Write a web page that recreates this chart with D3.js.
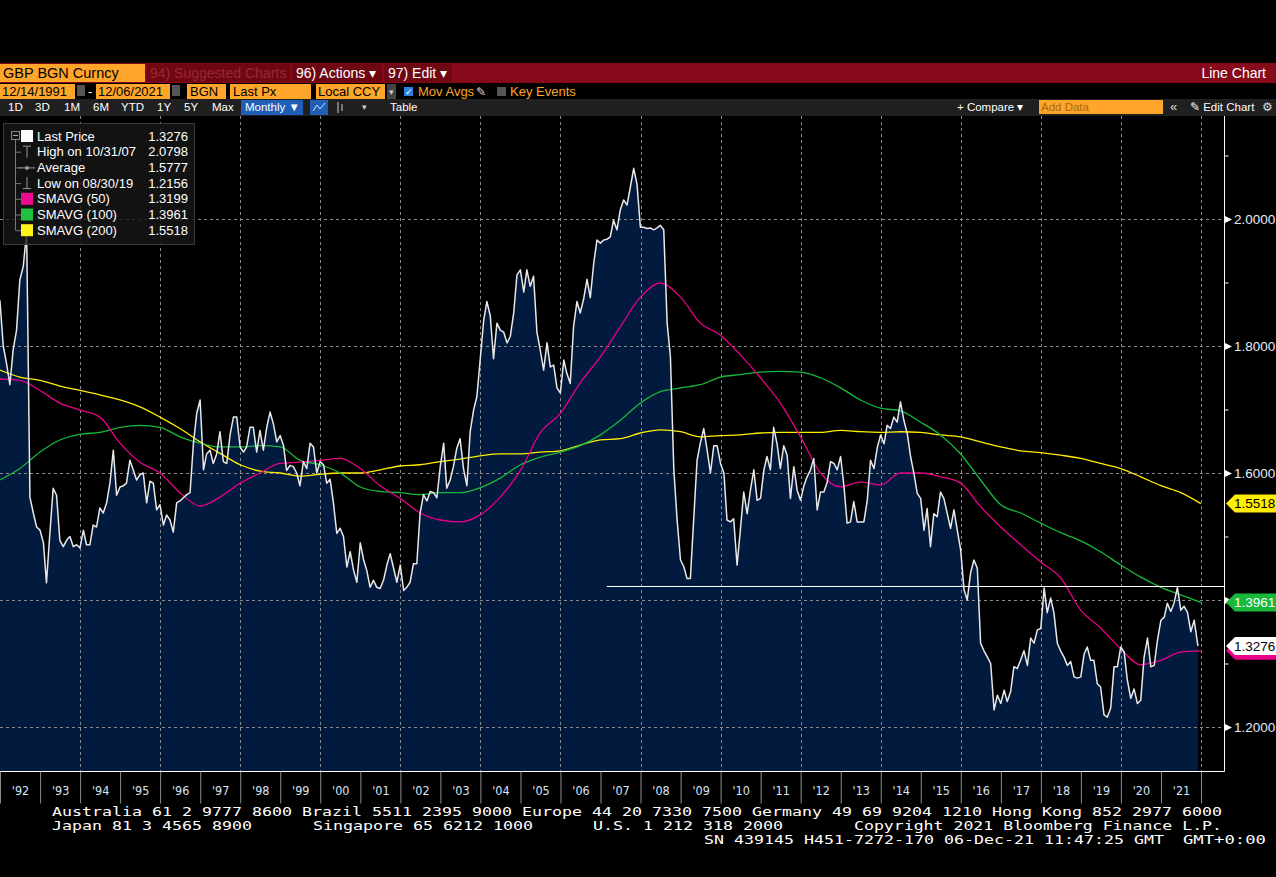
<!DOCTYPE html>
<html>
<head>
<meta charset="utf-8">
<script src="https://cdn.jsdelivr.net/npm/d3@7"></script>
<style>
    body { margin: 0; background: #000; }
    svg { display: block; font-family: "Liberation Sans", Arial, sans-serif; }
</style>
</head>
<body>
<script>
// GBP/USD monthly closes, Dec 1991 .. Dec 2021 (one value per month end)
var price = [
    1.872, 1.80, 1.773, 1.739, 1.794, 1.825, 1.904, 1.925, 1.98, 1.562, 1.537, 1.515,
    1.51, 1.49, 1.427, 1.505, 1.576, 1.565, 1.494, 1.484, 1.494, 1.50, 1.484, 1.487,
    1.482, 1.51, 1.487, 1.487, 1.518, 1.515, 1.545, 1.537, 1.553, 1.584, 1.636, 1.565,
    1.578, 1.58, 1.584, 1.62, 1.605, 1.589, 1.597, 1.60, 1.553, 1.587, 1.584, 1.542,
    1.55, 1.518, 1.534, 1.526, 1.507, 1.553, 1.556, 1.561, 1.566, 1.569, 1.647, 1.694,
    1.715, 1.605, 1.63, 1.636, 1.615, 1.63, 1.665, 1.618, 1.615, 1.66, 1.688, 1.688,
    1.641, 1.633, 1.641, 1.672, 1.672, 1.633, 1.667, 1.636, 1.672, 1.696, 1.677, 1.649,
    1.659, 1.643, 1.604, 1.612, 1.61, 1.60, 1.58, 1.618, 1.607, 1.647, 1.641, 1.60,
    1.618, 1.613, 1.584, 1.59, 1.553, 1.505, 1.513, 1.50, 1.452, 1.476, 1.447, 1.428,
    1.49, 1.463, 1.447, 1.42, 1.431, 1.42, 1.418, 1.431, 1.455, 1.473, 1.45, 1.428,
    1.455, 1.415, 1.42, 1.428, 1.457, 1.457, 1.537, 1.566, 1.556, 1.571, 1.569, 1.561,
    1.61, 1.647, 1.576, 1.589, 1.61, 1.639, 1.654, 1.607, 1.58, 1.665, 1.699, 1.72,
    1.78, 1.84, 1.87, 1.848, 1.78, 1.836, 1.825, 1.822, 1.805, 1.815, 1.852, 1.912,
    1.92, 1.885, 1.92, 1.894, 1.91, 1.822, 1.794, 1.762, 1.805, 1.767, 1.77, 1.734,
    1.726, 1.778, 1.757, 1.741, 1.83, 1.87, 1.852, 1.874, 1.905, 1.876, 1.93, 1.967,
    1.962, 1.967, 1.968, 1.972, 1.998, 1.983, 2.014, 2.03, 2.022, 2.05, 2.0798, 2.055,
    1.987, 1.987, 1.985, 1.986, 1.983, 1.986, 1.99, 1.983, 1.836, 1.783, 1.605, 1.526,
    1.463, 1.452, 1.434, 1.434, 1.526, 1.62, 1.647, 1.67, 1.636, 1.60, 1.643, 1.643,
    1.615, 1.60, 1.526, 1.523, 1.528, 1.455, 1.51, 1.57, 1.536, 1.573, 1.605, 1.557,
    1.56, 1.605, 1.626, 1.605, 1.672, 1.646, 1.607, 1.643, 1.628, 1.56, 1.61, 1.573,
    1.557, 1.58, 1.594, 1.605, 1.623, 1.542, 1.57, 1.57, 1.586, 1.618, 1.615, 1.605,
    1.626, 1.578, 1.521, 1.523, 1.555, 1.523, 1.523, 1.523, 1.557, 1.62, 1.607, 1.64,
    1.66, 1.646, 1.675, 1.67, 1.688, 1.68, 1.712, 1.683, 1.662, 1.626, 1.599, 1.568,
    1.56, 1.51, 1.544, 1.484, 1.536, 1.531, 1.57, 1.56, 1.536, 1.513, 1.542, 1.51,
    1.479, 1.416, 1.40, 1.443, 1.463, 1.45, 1.332, 1.32, 1.31, 1.30, 1.227, 1.25,
    1.237, 1.258, 1.24, 1.256, 1.295, 1.292, 1.305, 1.32, 1.297, 1.34, 1.332, 1.353,
    1.355, 1.419, 1.38, 1.403, 1.38, 1.332, 1.32, 1.31, 1.297, 1.303, 1.279, 1.277,
    1.279, 1.315, 1.326, 1.305, 1.305, 1.268, 1.263, 1.219, 1.2156, 1.23, 1.295, 1.295,
    1.326, 1.318, 1.274, 1.245, 1.26, 1.237, 1.242, 1.31, 1.34, 1.295, 1.297, 1.337,
    1.368, 1.373, 1.395, 1.382, 1.395, 1.42, 1.384, 1.39, 1.38, 1.35, 1.368, 1.332,
    1.3276
];

// moving averages, every 6 months (same start month)
var maStep = 6;
var sma50 = [
    1.748, 1.746, 1.73, 1.71, 1.699, 1.688, 1.647, 1.617, 1.60, 1.569, 1.548,
    1.562, 1.584, 1.60, 1.615, 1.617, 1.62, 1.623, 1.607, 1.58, 1.56, 1.537,
    1.526, 1.523, 1.534, 1.562, 1.604, 1.663, 1.694, 1.742, 1.783, 1.83, 1.877,
    1.899, 1.877, 1.836, 1.817, 1.786, 1.75, 1.71, 1.657, 1.60, 1.578, 1.586,
    1.581, 1.60, 1.60, 1.594, 1.584, 1.547, 1.515, 1.487, 1.46, 1.435, 1.384,
    1.356, 1.323, 1.298, 1.305, 1.318, 1.3199
];
var sma100 = [
    1.589, 1.607, 1.633, 1.652, 1.661, 1.664, 1.672, 1.675, 1.672, 1.657, 1.647,
    1.641, 1.641, 1.643, 1.641, 1.62, 1.613, 1.60, 1.578, 1.571, 1.569, 1.566,
    1.569, 1.569, 1.577, 1.592, 1.613, 1.625, 1.633, 1.643, 1.66, 1.683, 1.71,
    1.728, 1.734, 1.739, 1.751, 1.755, 1.759, 1.76, 1.759, 1.75, 1.734, 1.715,
    1.702, 1.698, 1.68, 1.66, 1.63, 1.589, 1.55, 1.537, 1.521, 1.506, 1.493,
    1.476, 1.455, 1.436, 1.42, 1.408, 1.3961
];
var sma200 = [
    1.762, 1.751, 1.746, 1.737, 1.73, 1.723, 1.715, 1.704, 1.688, 1.67, 1.649,
    1.631, 1.613, 1.603, 1.60, 1.595, 1.598, 1.60, 1.60, 1.605, 1.611, 1.613,
    1.618, 1.622, 1.627, 1.63, 1.63, 1.633, 1.635, 1.644, 1.652, 1.654, 1.663,
    1.668, 1.665, 1.657, 1.659, 1.66, 1.663, 1.664, 1.664, 1.664, 1.667, 1.665,
    1.664, 1.665, 1.664, 1.66, 1.657, 1.649, 1.641, 1.635, 1.632, 1.628, 1.623,
    1.615, 1.607, 1.594, 1.58, 1.569, 1.5518
];

var legendNames = ["Last Price", "High on 10/31/07", "Average",
                   "Low on 08/30/19", "SMAVG (50)", "SMAVG (100)", "SMAVG (200)"];
var legendValues = ["1.3276", "2.0798", "1.5777", "1.2156",
                    "1.3199", "1.3961", "1.5518"];
var majorTicks = [1.2, 1.4, 1.6, 1.8, 2.0];
var minorTicks = [1.3, 1.5, 1.7, 1.9, 2.1];
var hLineStart = new Date(2007, 1, 28), hLineLevel = 1.4215;

var colors = {pink: "#e8008a", green: "#18b83a", yellow: "#ffee00",
              orange: "#ffa52a", fill: "#011a3e", barRed: "#860a19"};

// month i after Dec 1991 -> date at month end
function monthEnd(i) { return new Date(1992, i, 0); }
var priceData = price.map(function(v, i) {
    return {date: i === price.length - 1 ? new Date(2021, 11, 6) : monthEnd(i), v: v};
});
function maData(arr) {
    return arr.map(function(v, k) { return {date: monthEnd(k * maStep), v: v}; });
}

var W = 1276, H = 877;
var plot = {left: 0, right: 1224, top: 116, bottom: 771};

var svg = d3.select("body").append("svg")
    .attr("width", W).attr("height", H);
svg.append("rect").attr("width", W).attr("height", H).attr("fill", "#000");

var x = d3.scaleTime()
    .domain([new Date(1992, 0, 1), new Date(2022, 0, 1)])
    .range([0, 1201]);
var y = d3.scaleLinear().domain([1.2, 2.0]).range([727, 219]);

svg.append("clipPath").attr("id", "plotclip").append("rect")
    .attr("x", plot.left).attr("y", plot.top)
    .attr("width", plot.right - plot.left).attr("height", plot.bottom - plot.top);

var g = svg.append("g").attr("clip-path", "url(#plotclip)");

// area under the price
g.append("path").datum(priceData)
    .attr("fill", colors.fill)
    .attr("d", d3.area().x(function(d) { return x(d.date); })
        .y0(plot.bottom).y1(function(d) { return y(d.v); }));

// dashed grid
var gridYears = d3.timeYear.every(2).range(new Date(1994, 0, 1), new Date(2022, 0, 2));
g.selectAll(".vgrid").data(gridYears).enter().append("line")
    .attr("x1", function(d) { return Math.round(x(d)) + 0.5; })
    .attr("x2", function(d) { return Math.round(x(d)) + 0.5; })
    .attr("y1", plot.top).attr("y2", plot.bottom)
    .attr("stroke", "#8a8a8a").attr("stroke-dasharray", "3,3");
g.selectAll(".hgrid").data(majorTicks).enter().append("line")
    .attr("x1", plot.left).attr("x2", plot.right)
    .attr("y1", function(d) { return Math.round(y(d)) + 0.5; })
    .attr("y2", function(d) { return Math.round(y(d)) + 0.5; })
    .attr("stroke", "#8a8a8a").attr("stroke-dasharray", "3,3");

// moving averages
var maLine = d3.line().curve(d3.curveMonotoneX)
    .x(function(d) { return x(d.date); }).y(function(d) { return y(d.v); });
[[sma200, colors.yellow], [sma100, colors.green], [sma50, colors.pink]]
    .forEach(function(s) {
        g.append("path").datum(maData(s[0]))
            .attr("fill", "none").attr("stroke", s[1]).attr("stroke-width", 1.3)
            .attr("d", maLine);
    });

// price line
g.append("path").datum(priceData)
    .attr("fill", "none").attr("stroke", "#e8e8e8").attr("stroke-width", 1.5)
    .attr("stroke-linejoin", "round")
    .attr("d", d3.line().x(function(d) { return x(d.date); })
        .y(function(d) { return y(d.v); }));

// horizontal annotation line
g.append("line")
    .attr("x1", x(hLineStart)).attr("x2", plot.right)
    .attr("y1", Math.round(y(hLineLevel)) + 0.5).attr("y2", Math.round(y(hLineLevel)) + 0.5)
    .attr("stroke", "#fff").attr("stroke-width", 1.2);

// frame: bottom and right
svg.append("line").attr("x1", 0).attr("x2", plot.right + 0.5)
    .attr("y1", plot.bottom + 0.5).attr("y2", plot.bottom + 0.5).attr("stroke", "#fff");
svg.append("line").attr("x1", plot.right + 0.5).attr("x2", plot.right + 0.5)
    .attr("y1", plot.top).attr("y2", plot.bottom + 0.5).attr("stroke", "#fff");

// x axis: year ticks with labels centred inside each year
var xAxis = d3.axisBottom(x)
    .ticks(d3.timeYear.every(1))
    .tickSize(32)
    .tickFormat(d3.timeFormat("'%y"));
var xg = svg.append("g")
    .attr("transform", "translate(0," + (plot.bottom + 0.5) + ")")
    .call(xAxis);
xg.select(".domain").remove();
xg.selectAll(".tick line").attr("stroke", "#8c8c8c");
xg.selectAll(".tick text")
    .attr("fill", "#d9e4f5").attr("font-size", 12.5)
    .attr("y", 19).attr("dy", "0.32em")
    .attr("x", 20)
    .attr("font-family", "'DejaVu Sans Condensed', 'Liberation Sans', sans-serif")
    .filter(function(d) { return d.getFullYear() >= 2022; }).remove();

// y axis
var yAxis = d3.axisRight(y).tickValues(majorTicks).tickSize(0)
    .tickFormat(d3.format(".4f")).tickPadding(10);
var yg = svg.append("g").attr("transform", "translate(" + plot.right + ",0)")
    .call(yAxis);
yg.select(".domain").remove();
yg.selectAll(".tick text").attr("fill", "#e4ecf8").attr("font-size", 13.5)
    .attr("font-family", "'Liberation Sans', Arial, sans-serif");
yg.selectAll(".tick").append("path")
    .attr("d", "M1,-3.5L8,0L1,3.5Z").attr("fill", "#fff");
var ym = d3.axisRight(y).tickValues(minorTicks).tickSize(4).tickFormat("");
var ymg = svg.append("g").attr("transform", "translate(" + (plot.right + 0.5) + ",0)")
    .call(ym);
ymg.select(".domain").remove();
ymg.selectAll(".tick line").attr("stroke", "#fff");

// price tags on the right (the 50-day tag sits hidden under the last price)
function tag(v, fill, textColor) {
    var cy = y(v);
    svg.append("path")
        .attr("d", "M1226," + cy + "L1235," + (cy - 9) + "L1276," + (cy - 9) +
              "L1276," + (cy + 9) + "L1235," + (cy + 9) + "Z")
        .attr("fill", fill);
    if (textColor) {
        svg.append("text").attr("x", 1234).attr("y", cy).attr("dy", "0.36em")
            .attr("font-size", 13.5).attr("fill", textColor)
            .text(d3.format(".4f")(v));
    }
}
tag(sma200[sma200.length - 1], colors.yellow, "#000");
tag(sma100[sma100.length - 1], colors.green, "#fff");
tag(sma50[sma50.length - 1], colors.pink, null);
tag(price[price.length - 1], "#fff", "#000");

// legend
var lg = svg.append("g");
lg.append("rect").attr("x", 3.5).attr("y", 123.5).attr("width", 191).attr("height", 121)
    .attr("fill", "rgba(22,22,22,0.82)").attr("stroke", "#3a3a3a");
var rowY = function(i) { return 136 + i * 15.7; };
lg.append("line").attr("x1", 15.5).attr("x2", 15.5).attr("y1", 136).attr("y2", rowY(6))
    .attr("stroke", "#777");
lg.append("rect").attr("x", 11.5).attr("y", rowY(0) - 4.5).attr("width", 8).attr("height", 8)
    .attr("fill", "#161616").attr("stroke", "#888");
lg.append("line").attr("x1", 13).attr("x2", 18).attr("y1", rowY(0) - 0.5).attr("y2", rowY(0) - 0.5)
    .attr("stroke", "#aaa");
for (var i = 1; i < 7; i++) {
    lg.append("line").attr("x1", 15.5).attr("x2", 21).attr("y1", rowY(i) + 0.5)
        .attr("y2", rowY(i) + 0.5).attr("stroke", "#777");
}
var swatch = {0: "#fff", 4: "#ee0a8e", 5: "#22c040", 6: "#fff21a"};
Object.keys(swatch).forEach(function(k) {
    lg.append("rect").attr("x", 21).attr("y", rowY(+k) - 6).attr("width", 12).attr("height", 12)
        .attr("fill", swatch[k]);
});
lg.append("path").attr("d", "M23," + (rowY(1) - 5.5) + "H31M27," + (rowY(1) - 5.5) +
    "V" + (rowY(1) + 6)).attr("stroke", "#999").attr("fill", "none");
lg.append("path").attr("d", "M19," + (rowY(2) + 0.5) + "H35").attr("stroke", "#999");
lg.append("circle").attr("cx", 27).attr("cy", rowY(2) + 0.5).attr("r", 2)
    .attr("fill", "#999");
lg.append("path").attr("d", "M23," + (rowY(3) + 5.5) + "H31M27," + (rowY(3) + 5.5) +
    "V" + (rowY(3) - 6)).attr("stroke", "#999").attr("fill", "none");
lg.selectAll(".lname").data(legendNames).enter().append("text")
    .attr("x", 37).attr("y", function(d, i) { return rowY(i); }).attr("dy", "0.36em")
    .attr("font-size", 13).attr("fill", "#fff").text(function(d) { return d; });
lg.selectAll(".lval").data(legendValues).enter().append("text")
    .attr("x", 188).attr("y", function(d, i) { return rowY(i); }).attr("dy", "0.36em")
    .attr("text-anchor", "end").attr("font-size", 13).attr("fill", "#fff")
    .text(function(d) { return d; });

// ---------------------------------------------------------------- toolbar
function box(x0, y0, w, h, fill) {
    svg.append("rect").attr("x", x0).attr("y", y0).attr("width", w).attr("height", h)
        .attr("fill", fill);
}
function label(x0, y0, t, size, fill, anchor) {
    return svg.append("text").attr("x", x0).attr("y", y0).attr("font-size", size)
        .attr("fill", fill).attr("text-anchor", anchor || "start").text(t);
}
// row 1
box(0, 63, W, 20, colors.barRed);
box(0, 64, 145, 18, colors.orange);
label(3, 78, "GBP BGN Curncy", 14.5, "#000");
box(147, 64, 143, 18, "#6e0712");
label(150, 78, "94) Suggested Charts", 14, "#9e2634");
box(292, 64, 90, 18, "#6e0712");
label(296, 78, "96) Actions \u25BE", 14, "#fff");
box(384, 64, 68, 18, "#6e0712");
label(388, 78, "97) Edit \u25BE", 14, "#fff");
label(1266, 78, "Line Chart", 14, "#fff", "end");

// row 2
box(0, 84, 75, 15, colors.orange);
label(2, 96, "12/14/1991", 13, "#000");
box(77, 85, 8, 11, "#555");
label(88, 96, "-", 13, "#fff");
box(96, 84, 74, 15, colors.orange);
label(98, 96, "12/06/2021", 13, "#000");
box(172, 85, 8, 11, "#555");
box(187, 84, 39, 15, colors.orange);
label(190, 96, "BGN", 13, "#000");
box(230, 84, 81, 15, colors.orange);
label(233, 96, "Last Px", 13, "#000");
box(316, 84, 69, 15, colors.orange);
label(318, 96, "Local CCY", 13, "#000");
box(387, 84, 9, 15, "#444");
label(389, 95, "\u25BE", 9, "#ccc");
box(404, 87, 9, 9, "#2f7fe0");
label(405, 95, "\u2713", 9, "#fff");
label(418, 96, "Mov Avgs", 13, colors.orange);
label(476, 96, "\u270E", 12, "#ddd");
box(497, 87, 9, 9, "#555");
label(510, 96, "Key Events", 13, colors.orange);

// row 3
box(0, 99, W, 17, "#202020");
var periods = [["1D", 8], ["3D", 35], ["1M", 64], ["6M", 93], ["YTD", 121],
               ["1Y", 157], ["5Y", 184], ["Max", 212]];
periods.forEach(function(p) { label(p[1], 111, p[0], 11.5, "#fff"); });
box(241, 100, 62, 15, "#1f5fb8");
label(245, 111, "Monthly \u25BC", 11.5, "#fff");
box(310, 100, 18, 15, "#1f5fb8");
svg.append("path").attr("d", "M313,111L317,105L320,109L325,103").attr("stroke", "#cfe0ff")
    .attr("fill", "none");
svg.append("path").attr("d", "M338,102V113M342,104V111").attr("stroke", "#ccc");
label(362, 110, "\u25BE", 9, "#ccc");
label(390, 111, "Table", 11.5, "#fff");
label(957, 111, "+ Compare \u25BE", 11.5, "#fff");
box(1039, 100, 124, 14, colors.orange);
label(1041, 111, "Add Data", 11.5, "#a86a10");
label(1170, 111, "\u00AB", 13, "#ddd");
label(1190, 111, "\u270E Edit Chart", 11.5, "#fff");
label(1262, 111, "\u2699", 12, "#ddd");

// ---------------------------------------------------------------- footer
var mono = "'DejaVu Sans Mono', 'Liberation Mono', monospace";
function foot(x0, y0, t, len) {
    svg.append("text").attr("x", x0).attr("y", y0).attr("font-family", mono)
        .attr("font-size", 12.5).attr("fill", "#fff")
        .attr("textLength", len).attr("lengthAdjust", "spacingAndGlyphs").text(t);
}
foot(52, 816, "Australia 61 2 9777 8600 Brazil 5511 2395 9000 Europe 44 20 7330 7500 " +
     "Germany 49 69 9204 1210 Hong Kong 852 2977 6000", 1170);
foot(52, 830, "Japan 81 3 4565 8900", 200);
foot(313, 830, "Singapore 65 6212 1000", 220);
foot(593, 830, "U.S. 1 212 318 2000", 190);
foot(854, 830, "Copyright 2021 Bloomberg Finance L.P.", 368);
foot(704, 844, "SN 439145 H451-7272-170 06-Dec-21 11:47:25 GMT", 460);
foot(1183, 844, "GMT+0:00", 83);
</script>
</body>
</html>
